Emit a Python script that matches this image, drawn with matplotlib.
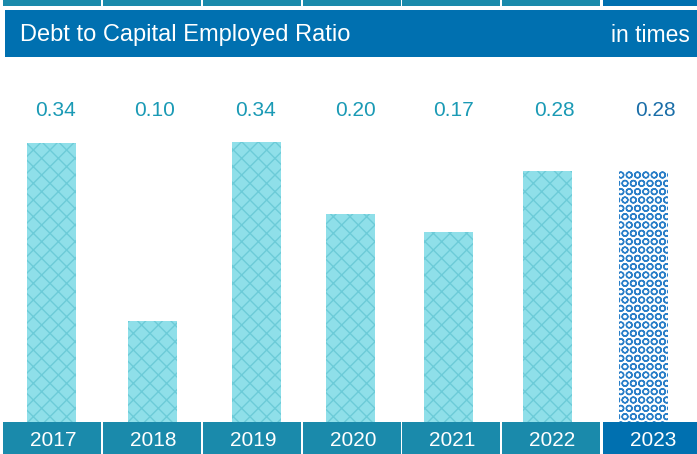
import matplotlib
matplotlib.use("Agg")
import matplotlib.pyplot as plt
from matplotlib.patches import Rectangle

# Datos del gráfico
years = ['2017', '2018', '2019', '2020', '2021', '2022', '2023']
ratio_labels = ['0.34', '0.10', '0.34', '0.20', '0.17', '0.28', '0.28']
# alturas de las barras tal como se ven en el gráfico original (no proporcionales a las etiquetas)
bar_heights = [0.340, 0.125, 0.341, 0.254, 0.232, 0.306, 0.306]
title = 'Debt to Capital Employed Ratio'
unit = 'in times'

# posiciones (px) de las barras y de las pestañas
bar_x = [51.5, 152.5, 256.5, 350, 448.5, 547.5, 643.5]
tab_left = [3, 103, 203, 303, 402, 502, 603]

teal = '#1a8aab'
dark_blue = '#0070b0'
label_teal = '#1a9ab5'
label_blue = '#1a6ea8'
bar_fill = '#8fdfe9'
bar_hatch = '#6ccbd8'

plt.rcParams['font.family'] = ['Liberation Sans', 'DejaVu Sans']
plt.rcParams['hatch.linewidth'] = 1.0

W, H = 697, 454
fig = plt.figure(figsize=(W / 100, H / 100), dpi=100)
y_per_px = 0.34 / 281

# ejes de las barras: base en y=424 px, tope en y=60 px
ax = fig.add_axes([0, (H - 424) / H, 1, (424 - 60) / H])
ax.set_xlim(0, W)
ax.set_ylim(0, (424 - 60) * y_per_px)
ax.axis('off')

n = len(years)
for i in range(n):
    last = i == n - 1
    ax.bar(bar_x[i], bar_heights[i], width=49,
           color='white' if last else bar_fill,
           edgecolor='#2a7fc8' if last else bar_hatch,
           hatch='OO' if last else 'xx', linewidth=0)

# capa de encima: cabecera y pestañas (coordenadas en píxeles)
ov = fig.add_axes([0, 0, 1, 1])
ov.set_xlim(0, W)
ov.set_ylim(H, 0)
ov.axis('off')
ov.patch.set_alpha(0)

for i, yr in enumerate(years):
    last = i == n - 1
    c = dark_blue if last else teal
    left = tab_left[i]
    width = W - left if last else 98
    ov.add_patch(Rectangle((left, 0), width, 6, color=c, lw=0))
    ov.add_patch(Rectangle((left, 422), width, 40, color=c, lw=0))
    ov.text(left + 50, 441, yr, color='white', fontsize=15, ha='center', va='center')
    ov.text(left + 52, 110, ratio_labels[i],
            color=label_blue if last else label_teal,
            fontsize=15, ha='center', va='center')

ov.add_patch(Rectangle((5, 10), W, 47, color=dark_blue, lw=0))
ov.text(20, 35, title, color='white', fontsize=17, ha='left', va='center')
ov.text(690, 35, unit, color='white', fontsize=16.5, ha='right', va='center')

fig.savefig('out.png', dpi=100)
